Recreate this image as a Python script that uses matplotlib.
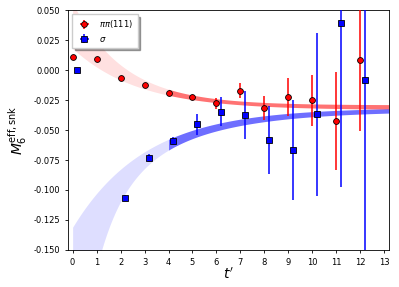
import numpy as np
import matplotlib
matplotlib.use("Agg")
import matplotlib.pyplot as plt

plt.rcParams['font.size'] = 6
plt.rcParams['axes.linewidth'] = 0.6
plt.rcParams['xtick.major.size'] = 2.2
plt.rcParams['ytick.major.size'] = 2.2
plt.rcParams['xtick.major.width'] = 0.6
plt.rcParams['ytick.major.width'] = 0.6

# pipi(111) effective mass
t_pipi = [0, 1, 2, 3, 4, 5, 6, 7, 8, 9, 10, 11, 12]
m_pipi = [0.0111, 0.0089, -0.0064, -0.0125, -0.0192, -0.0222, -0.0278,
          -0.0172, -0.0314, -0.0225, -0.0253, -0.0422, 0.0081]
e_pipi = [0.001, 0.001, 0.001, 0.001, 0.001, 0.0012, 0.0046,
          0.006, 0.010, 0.0156, 0.021, 0.0408, 0.0587]

# sigma effective mass
t_sigma = [0.2, 2.2, 3.2, 4.2, 5.2, 6.2, 7.2, 8.2, 9.2, 10.2, 11.2, 12.2]
m_sigma = [0.0002, -0.1064, -0.0733, -0.0592, -0.0453, -0.0347, -0.0378,
           -0.0583, -0.0667, -0.0369, 0.0389, -0.0081]
e_sigma = [0.001, 0.002, 0.003, 0.003, 0.009, 0.0122, 0.020,
           0.0285, 0.042, 0.068, 0.136, 0.17]

# fit bands: edge = E + A*exp(-k t) (+ C*exp(-k2 t))
pipi_hi = (-0.029, 0.085, 0.469)
pipi_lo = (-0.033, 0.051, 0.362)
sigma_hi = (-0.031, -0.100, 0.33)
sigma_lo = (-0.034, -0.099, 0.30, -0.158, 1.0)
t_fit_min = 4.0


def edge(t, p):
    v = p[0] + p[1] * np.exp(-p[2] * t)
    if len(p) > 3:
        v = v + p[3] * np.exp(-p[4] * t)
    return v


fig = plt.figure(figsize=(3.99, 2.87), dpi=100)
ax = fig.add_axes([0.170, 0.129, 0.805, 0.836])

ta = np.linspace(0, t_fit_min, 200)
tb = np.linspace(t_fit_min, 13.2, 300)

ax.fill_between(ta, edge(ta, pipi_lo), edge(ta, pipi_hi), color='red', alpha=0.12, lw=0)
ax.fill_between(tb, edge(tb, pipi_lo), edge(tb, pipi_hi), color='red', alpha=0.55, lw=0)
ax.fill_between(ta, edge(ta, sigma_lo), edge(ta, sigma_hi), color='blue', alpha=0.13, lw=0)
ax.fill_between(tb, edge(tb, sigma_lo), edge(tb, sigma_hi), color='blue', alpha=0.57, lw=0)

ax.errorbar(t_pipi, m_pipi, yerr=e_pipi, xerr=np.full(len(t_pipi), 1e-9), fmt='o',
            color='red', mfc='red', mec='black', mew=0.6, ms=4.2, elinewidth=1.1,
            capsize=0, label=r'$\pi\pi(111)$', zorder=3)
ax.errorbar(t_sigma, m_sigma, yerr=e_sigma, xerr=np.full(len(t_sigma), 1e-9), fmt='s',
            color='blue', mfc='blue', mec='black', mew=0.6, ms=4.2, elinewidth=1.1,
            capsize=0, label=r'$\sigma$', zorder=3)

ax.set_xlim(-0.2, 13.2)
ax.set_ylim(-0.15, 0.05)
ax.set_xticks(range(0, 14))
ax.set_yticks([-0.15, -0.125, -0.1, -0.075, -0.05, -0.025, 0.0, 0.025, 0.05])
ax.yaxis.set_major_formatter(matplotlib.ticker.FormatStrFormatter('%.3f'))
ax.set_xlabel(r"$t'$", fontsize=10, labelpad=0)
ax.set_ylabel(r'$M_6^{\mathrm{eff,snk}}$', fontsize=10, labelpad=3)
ax.legend(loc='upper left', fontsize=6, fancybox=False, shadow=True,
          framealpha=1, borderpad=0.5, handletextpad=0.8)

fig.savefig('out.png', dpi=100)
